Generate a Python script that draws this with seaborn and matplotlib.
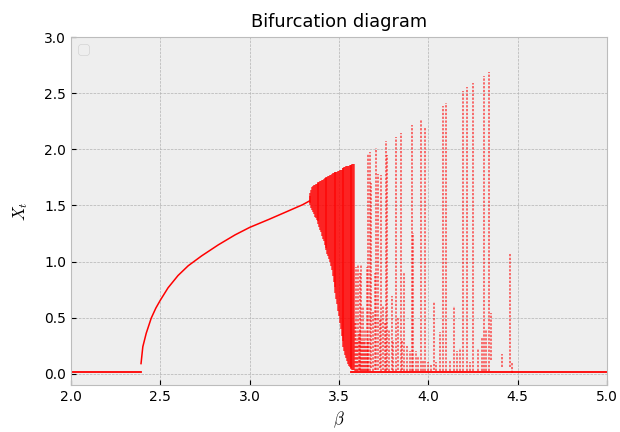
import matplotlib
matplotlib.use("Agg")
import matplotlib.pyplot as plt
import seaborn as sns
import pandas as pd

# --- data ---
# zero (extinction) branch
zero_left_beta = [2.00, 2.10, 2.20, 2.30, 2.39]
zero_left_x = [0.015, 0.015, 0.015, 0.015, 0.015]
zero_right_beta = [3.57, 3.70, 3.90, 4.10, 4.30, 4.50, 4.70, 4.90, 5.00]
zero_right_x = [0.015, 0.015, 0.015, 0.015, 0.015, 0.015, 0.015, 0.015, 0.015]

# stable non-zero branch
branch_beta = [2.392, 2.402, 2.421, 2.449, 2.475, 2.500, 2.543, 2.599, 2.656, 2.731, 2.825,
               2.919, 3.000, 3.107, 3.201, 3.296, 3.335]
branch_x = [0.09, 0.24, 0.36, 0.495, 0.585, 0.655, 0.765, 0.875, 0.962, 1.050, 1.149,
            1.238, 1.304, 1.375, 1.440, 1.506, 1.54]

# chaotic band (columns of visited states)
fan_beta = [3.335, 3.34, 3.345, 3.35, 3.355, 3.36, 3.365, 3.37, 3.375, 3.38, 3.385,
            3.39, 3.395, 3.40, 3.405, 3.41, 3.415, 3.42, 3.425, 3.43, 3.435, 3.44,
            3.445, 3.45, 3.455, 3.46, 3.465, 3.47, 3.475, 3.48, 3.485, 3.49, 3.495,
            3.50, 3.505, 3.51, 3.515, 3.52, 3.525, 3.53, 3.535, 3.54, 3.545, 3.55,
            3.555, 3.56, 3.565, 3.57, 3.575, 3.58, 3.585]
fan_lo = [1.52, 1.50, 1.48, 1.46, 1.44, 1.42, 1.40, 1.39, 1.37, 1.36, 1.33,
          1.31, 1.28, 1.26, 1.23, 1.20, 1.18, 1.15, 1.12, 1.10, 1.07, 1.05,
          1.02, 1.00, 0.96, 0.92, 0.87, 0.82, 0.77, 0.72, 0.67, 0.62, 0.56,
          0.51, 0.45, 0.40, 0.34, 0.29, 0.24, 0.20, 0.17, 0.14, 0.11, 0.09,
          0.07, 0.06, 0.05, 0.04, 0.03, 0.03, 0.03]
fan_hi = [1.58, 1.61, 1.64, 1.66, 1.67, 1.68, 1.685, 1.69, 1.695, 1.70, 1.705,
          1.71, 1.715, 1.72, 1.725, 1.73, 1.735, 1.74, 1.745, 1.75, 1.755, 1.76,
          1.765, 1.77, 1.775, 1.78, 1.785, 1.79, 1.795, 1.80, 1.80, 1.80, 1.805,
          1.81, 1.815, 1.82, 1.82, 1.83, 1.835, 1.84, 1.845, 1.85, 1.85, 1.85,
          1.855, 1.86, 1.86, 1.86, 1.865, 1.87, 1.87]

# isolated chaotic windows beyond the band
spike_beta = [3.590, 3.595, 3.600, 3.605, 3.610, 3.615, 3.620, 3.625, 3.630, 3.635,
              3.640, 3.645, 3.650, 3.655, 3.660, 3.665, 3.672, 3.680,
              3.690, 3.700, 3.708, 3.718, 3.728, 3.735, 3.745, 3.755, 3.763, 3.770,
              3.780, 3.795, 3.805, 3.817, 3.830, 3.847, 3.855, 3.864, 3.880, 3.895,
              3.906, 3.915, 3.930, 3.945, 3.957, 3.970, 3.983, 4.000, 4.015, 4.030,
              4.045, 4.065, 4.083, 4.098, 4.120, 4.143, 4.160, 4.177, 4.195, 4.218,
              4.235, 4.251, 4.280, 4.300, 4.313, 4.325, 4.341, 4.350, 4.410, 4.459,
              4.470]
spike_lo = [0.02, 0.02, 0.02, 0.02, 0.03, 0.03, 0.02, 0.02, 0.02, 0.02,
            0.02, 0.02, 0.02, 0.02, 0.02, 0.02, 0.02, 0.05,
            0.02, 0.03, 0.03, 0.03, 0.05, 0.02, 0.03, 0.02, 0.02, 0.03,
            0.02, 0.03, 0.02, 0.02, 0.03, 0.02, 0.03, 0.02, 0.02, 0.02,
            0.02, 0.02, 0.02, 0.02, 0.02, 0.02, 0.02, 0.02, 0.02, 0.03,
            0.02, 0.02, 0.02, 0.02, 0.02, 0.02, 0.02, 0.02, 0.02, 0.02,
            0.02, 0.02, 0.02, 0.02, 0.02, 0.02, 0.02, 0.12, 0.06, 0.06,
            0.01]
spike_hi = [0.45, 0.95, 0.30, 0.98, 0.35, 0.90, 0.40, 0.97, 0.30, 0.60,
            0.30, 0.40, 0.25, 0.95, 0.30, 1.96, 1.98, 1.70,
            0.55, 0.90, 2.01, 1.78, 0.50, 1.77, 0.60, 0.45, 2.07, 1.95,
            0.40, 0.69, 0.30, 2.11, 0.50, 2.15, 0.30, 0.91, 0.25, 0.20,
            2.22, 1.25, 0.20, 0.15, 2.26, 0.12, 2.19, 0.10, 0.08, 0.64,
            0.10, 0.37, 2.39, 2.41, 0.12, 0.60, 0.20, 0.23, 2.52, 2.56,
            0.10, 2.59, 0.22, 0.33, 2.65, 0.40, 2.69, 0.54, 0.18, 1.07,
            0.10]

# --- plotting ---
plt.style.use("bmh")
plt.rcParams["mathtext.fontset"] = "cm"
fig, ax = plt.subplots(figsize=(6.2, 4.32), dpi=100)
fig.subplots_adjust(left=0.1145, right=0.979, bottom=0.109, top=0.914)

red = "#ff0000"
sns.lineplot(data=pd.DataFrame({"b": zero_left_beta, "x": zero_left_x}), x="b", y="x",
             ax=ax, color=red, lw=1.3, estimator=None)
sns.lineplot(data=pd.DataFrame({"b": zero_right_beta, "x": zero_right_x}), x="b", y="x",
             ax=ax, color=red, lw=1.3, estimator=None)
sns.lineplot(data=pd.DataFrame({"b": branch_beta, "x": branch_x}), x="b", y="x",
             ax=ax, color=red, lw=1.1, estimator=None, sort=False)

ax.vlines(fan_beta, fan_lo, fan_hi, colors=red, linewidth=1.1, alpha=0.8)
ax.vlines(spike_beta, spike_lo, spike_hi, colors=red, linewidth=1.1, alpha=0.7,
          linestyles=(0, (1.5, 1.0)))

ax.set_xlim(2.0, 5.0)
ax.set_ylim(-0.1, 3.0)
ax.set_xticks([2.0, 2.5, 3.0, 3.5, 4.0, 4.5, 5.0])
ax.set_yticks([0.0, 0.5, 1.0, 1.5, 2.0, 2.5, 3.0])
ax.set_title("Bifurcation diagram", fontsize=12.8, pad=7)
ax.set_xlabel(r"$\beta$", fontsize=12)
ax.set_ylabel(r"$X_t$", fontsize=12, labelpad=10)
ax.legend(handles=[], loc="upper left")

fig.savefig("out.png", dpi=100)
